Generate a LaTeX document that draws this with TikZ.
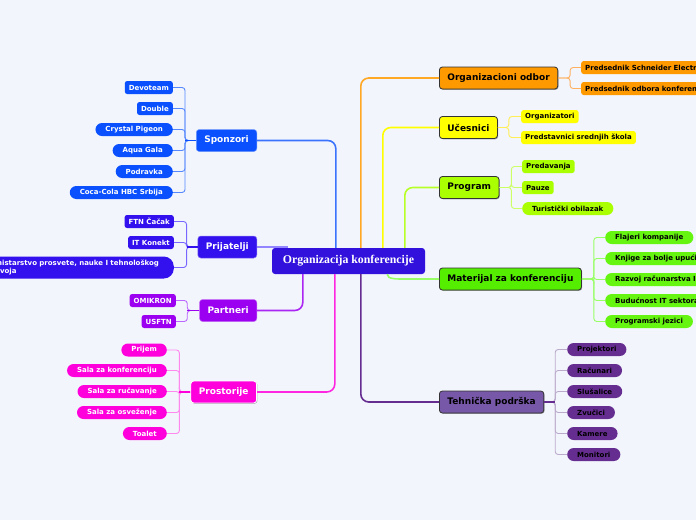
\documentclass[tikz,border=0pt]{standalone}
\usepackage{fontspec}
\setmainfont{DejaVu Sans}
\newfontfamily\cserif{Liberation Serif}
\usetikzlibrary{shadows}
\definecolor{bgc}{HTML}{F2F5FC}
\definecolor{ce}{HTML}{3311DD}
\definecolor{sp}{HTML}{0A50FF}
\definecolor{spl}{HTML}{5588FF}
\definecolor{pr}{HTML}{3310EE}
\definecolor{prl}{HTML}{7766FF}
\definecolor{pa}{HTML}{9B00F0}
\definecolor{pal}{HTML}{BB66FF}
\definecolor{ps}{HTML}{FF00DD}
\definecolor{psl}{HTML}{FF88EE}
\definecolor{oo}{HTML}{FF9900}
\definecolor{ool}{HTML}{FFB060}
\definecolor{uc}{HTML}{FFFF00}
\definecolor{ucl}{HTML}{FFEE55}
\definecolor{pg}{HTML}{AAFF00}
\definecolor{pgl}{HTML}{CCFF66}
\definecolor{ma}{HTML}{55EE00}
\definecolor{mal}{HTML}{66F511}
\definecolor{mall}{HTML}{99FF66}
\definecolor{te}{HTML}{7758A8}
\definecolor{tel}{HTML}{662D91}
\definecolor{tell}{HTML}{BBAACC}
\tikzset{
  br/.style={minimum height=22, inner xsep=8, inner ysep=0, rounded corners=3,
    font=\fontsize{9}{10}\selectfont\bfseries},
  brR/.style={br, draw=black!80, line width=0.8, text=black, anchor=west,
    drop shadow={shadow xshift=0.8pt, shadow yshift=-0.8pt, opacity=0.35, fill=black}},
  brL/.style={br, text=white, anchor=east},
  lf/.style={minimum height=13, inner ysep=0, font=\fontsize{7}{8}\selectfont\bfseries},
  sq/.style={lf, rounded corners=2.5, inner xsep=4},
  pill/.style={lf, rounded corners=6.5, inner xsep=10},
  lfL/.style={anchor=east, text=white},
  lfR/.style={anchor=west, text=black},
  main/.style={line width=1.6, rounded corners=8},
  sub/.style={line width=0.9, rounded corners=3},
}
\begin{document}
\begin{tikzpicture}[x=1pt,y=-1pt]
\fill[bgc] (0,0) rectangle (696,520);
\useasboundingbox (0,0) rectangle (696,520);

% center
\node[fill=ce, text=white, minimum width=153, minimum height=26, rounded corners=3,
  font=\cserif\bfseries\fontsize{11.8}{13}\selectfont] (c) at (348.5,261) {Organizacija konferencije};

% ---------- left branches
\node[brL, fill=sp, draw=sp!60!white, line width=0.5] (spon) at (257,140.5) {Sponzori};
\node[brL, fill=pr, draw=pr!60!white, line width=0.5] (prij) at (257,247) {Prijatelji};
\node[brL, fill=pa, draw=pa!60!white, line width=0.5] (part) at (257,310.5) {Partneri};
\node[brL, fill=ps, draw=white, line width=0.8,
  drop shadow={shadow xshift=0.8pt, shadow yshift=-0.8pt, opacity=0.3, fill=black}] (pros) at (257,392) {Prostorije};

% ---------- right branches
\node[brR, fill=oo] (org) at (439,78) {Organizacioni odbor};
\node[brR, fill=uc] (uce) at (439,127.5) {Učesnici};
\node[brR, fill=pg] (prog) at (439,187.5) {Program};
\node[brR, fill=ma] (mat) at (439,279) {Materijal za konferenciju};
\node[brR, fill=te] (teh) at (439,402) {Tehnička podrška};

% ---------- center connectors
\draw[main, sp!80!white] ([xshift=64]c.north west) |- (spon.east);
\draw[main, oo!85!white] ([xshift=89]c.north west) |- (org.west);
\draw[main, uc] ([xshift=111]c.north west) |- (uce.west);
\draw[main, pg!85!white] ([xshift=133]c.north west) |- (prog.west);
\draw[main, prl!80!white] (prij.east) -- ([xshift=16]c.north west |- prij.east);
\draw[main, pa!85!white] ([xshift=31]c.south west) |- (part.east);
\draw[main, ps!85!white] ([xshift=63]c.south west) |- (pros.east);
\draw[main, tel] ([xshift=89]c.south west) |- (teh.west);
\draw[line width=1.6, mall] ([xshift=-38]c.south east) .. controls +(0,5) and +(-9,0) .. ([xshift=-34]mat.west) -- (mat.west);

% ---------- Sponzori leaves
\node[sq, lfL, fill=sp] (s1) at (173,87.5) {Devoteam};
\node[sq, lfL, fill=sp] (s2) at (173,108.5) {Double};
\node[pill, lfL, fill=sp] (s3) at (173,129.5) {Crystal Pigeon};
\node[pill, lfL, fill=sp] (s4) at (173,150.5) {Aqua Gala};
\node[pill, lfL, fill=sp] (s5) at (173,171.5) {Podravka};
\node[pill, lfL, fill=sp] (s6) at (173,192.5) {Coca-Cola HBC Srbija};
\foreach \n in {s1,s2,s3,s4,s5,s6} \draw[sub, spl] (spon.west) -- ++(-11,0) |- (\n.east);
\draw[line width=1.2, sp] (spon.west) -- ++(-11,0);

% ---------- Prijatelji leaves
\node[sq, lfL, fill=pr] (p1) at (174,221.5) {FTN Čačak};
\node[sq, lfL, fill=pr] (p2) at (174,242.5) {IT Konekt};
\node[lf, lfL, fill=pr, minimum height=22, rounded corners=10, inner xsep=6,
  text width=180, align=left, font=\fontsize{7}{8.6}\selectfont\bfseries] (p3) at (174,267.5)
  {Ministarstvo prosvete, nauke I tehnološkog\\razvoja};
\foreach \n in {p1,p2,p3} \draw[sub, prl] (prij.west) -- ++(-11,0) |- (\n.east);
\draw[line width=1.2, pr] (prij.west) -- ++(-11,0);

% ---------- Partneri leaves
\node[sq, lfL, fill=pa] (a1) at (176,300.5) {OMIKRON};
\node[sq, lfL, fill=pa] (a2) at (176,321.5) {USFTN};
\foreach \n in {a1,a2} \draw[sub, pal] (part.west) -- ++(-12,0) |- (\n.east);
\draw[line width=1.2, pa] (part.west) -- ++(-12,0);

% ---------- Prostorije leaves
\node[pill, lfL, fill=ps] (r1) at (167,350) {Prijem};
\node[pill, lfL, fill=ps] (r2) at (167,370.5) {Sala za konferenciju};
\node[pill, lfL, fill=ps] (r3) at (167,391.5) {Sala za ručavanje};
\node[pill, lfL, fill=ps] (r4) at (167,412.5) {Sala za osveženje};
\node[pill, lfL, fill=ps] (r5) at (167,433.5) {Toalet};
\foreach \n in {r1,r2,r3,r4,r5} \draw[sub, psl] (pros.west) -- ++(-11,0) |- (\n.east);
\draw[line width=1.2, ps] (pros.west) -- ++(-11,0);

% ---------- Organizacioni odbor leaves
\node[sq, lfR, fill=oo, text width=140, align=left] (o1) at (581,67.5) {Predsednik Schneider Electri};
\node[sq, lfR, fill=oo, text width=140, align=left] (o2) at (581,88.5) {Predsednik odbora konferen};
\foreach \n in {o1,o2} \draw[sub, ool] (org.east) -- ++(12,0) |- (\n.west);

% ---------- Ucesnici leaves
\node[sq, lfR, fill=uc] (u1) at (521,116.5) {Organizatori};
\node[sq, lfR, fill=uc] (u2) at (521,137.5) {Predstavnici srednjih škola};
\foreach \n in {u1,u2} \draw[sub, ucl] (uce.east) -- ++(11,0) |- (\n.west);

% ---------- Program leaves
\node[sq, lfR, fill=pg] (g1) at (522,166.5) {Predavanja};
\node[sq, lfR, fill=pg] (g2) at (522,187.5) {Pauze};
\node[pill, lfR, fill=pg] (g3) at (522,208.5) {Turistički obilazak};
\foreach \n in {g1,g2,g3} \draw[sub, pgl] (prog.east) -- ++(12,0) |- (\n.west);

% ---------- Materijal leaves
\node[pill, lfR, fill=mal] (m1) at (605,237.5) {Flajeri kompanije};
\node[pill, lfR, fill=mal, text width=120, align=left] (m2) at (605,258.5) {Knjige za bolje upući};
\node[pill, lfR, fill=mal, text width=120, align=left] (m3) at (605,279.5) {Razvoj računarstva I};
\node[pill, lfR, fill=mal, text width=120, align=left] (m4) at (605,300.5) {Budućnost IT sektora};
\node[pill, lfR, fill=mal] (m5) at (605,321.5) {Programski jezici};
\foreach \n in {m1,m2,m3,m4,m5} \draw[sub, mall] (mat.east) -- ++(12,0) |- (\n.west);

% ---------- Tehnicka leaves
\node[pill, lfR, fill=tel] (t1) at (567,349.5) {Projektori};
\node[pill, lfR, fill=tel] (t2) at (567,370.5) {Računari};
\node[pill, lfR, fill=tel] (t3) at (567,391.5) {Slušalice};
\node[pill, lfR, fill=tel] (t4) at (567,412.5) {Zvučici};
\node[pill, lfR, fill=tel] (t5) at (567,433.5) {Kamere};
\node[pill, lfR, fill=tel] (t6) at (567,454.5) {Monitori};
\foreach \n in {t1,t2,t3,t4,t5,t6} \draw[sub, tell] (teh.east) -- ++(11,0) |- (\n.west);
\draw[line width=1.2, tel] (teh.east) -- ++(11,0);
\end{tikzpicture}
\end{document}
